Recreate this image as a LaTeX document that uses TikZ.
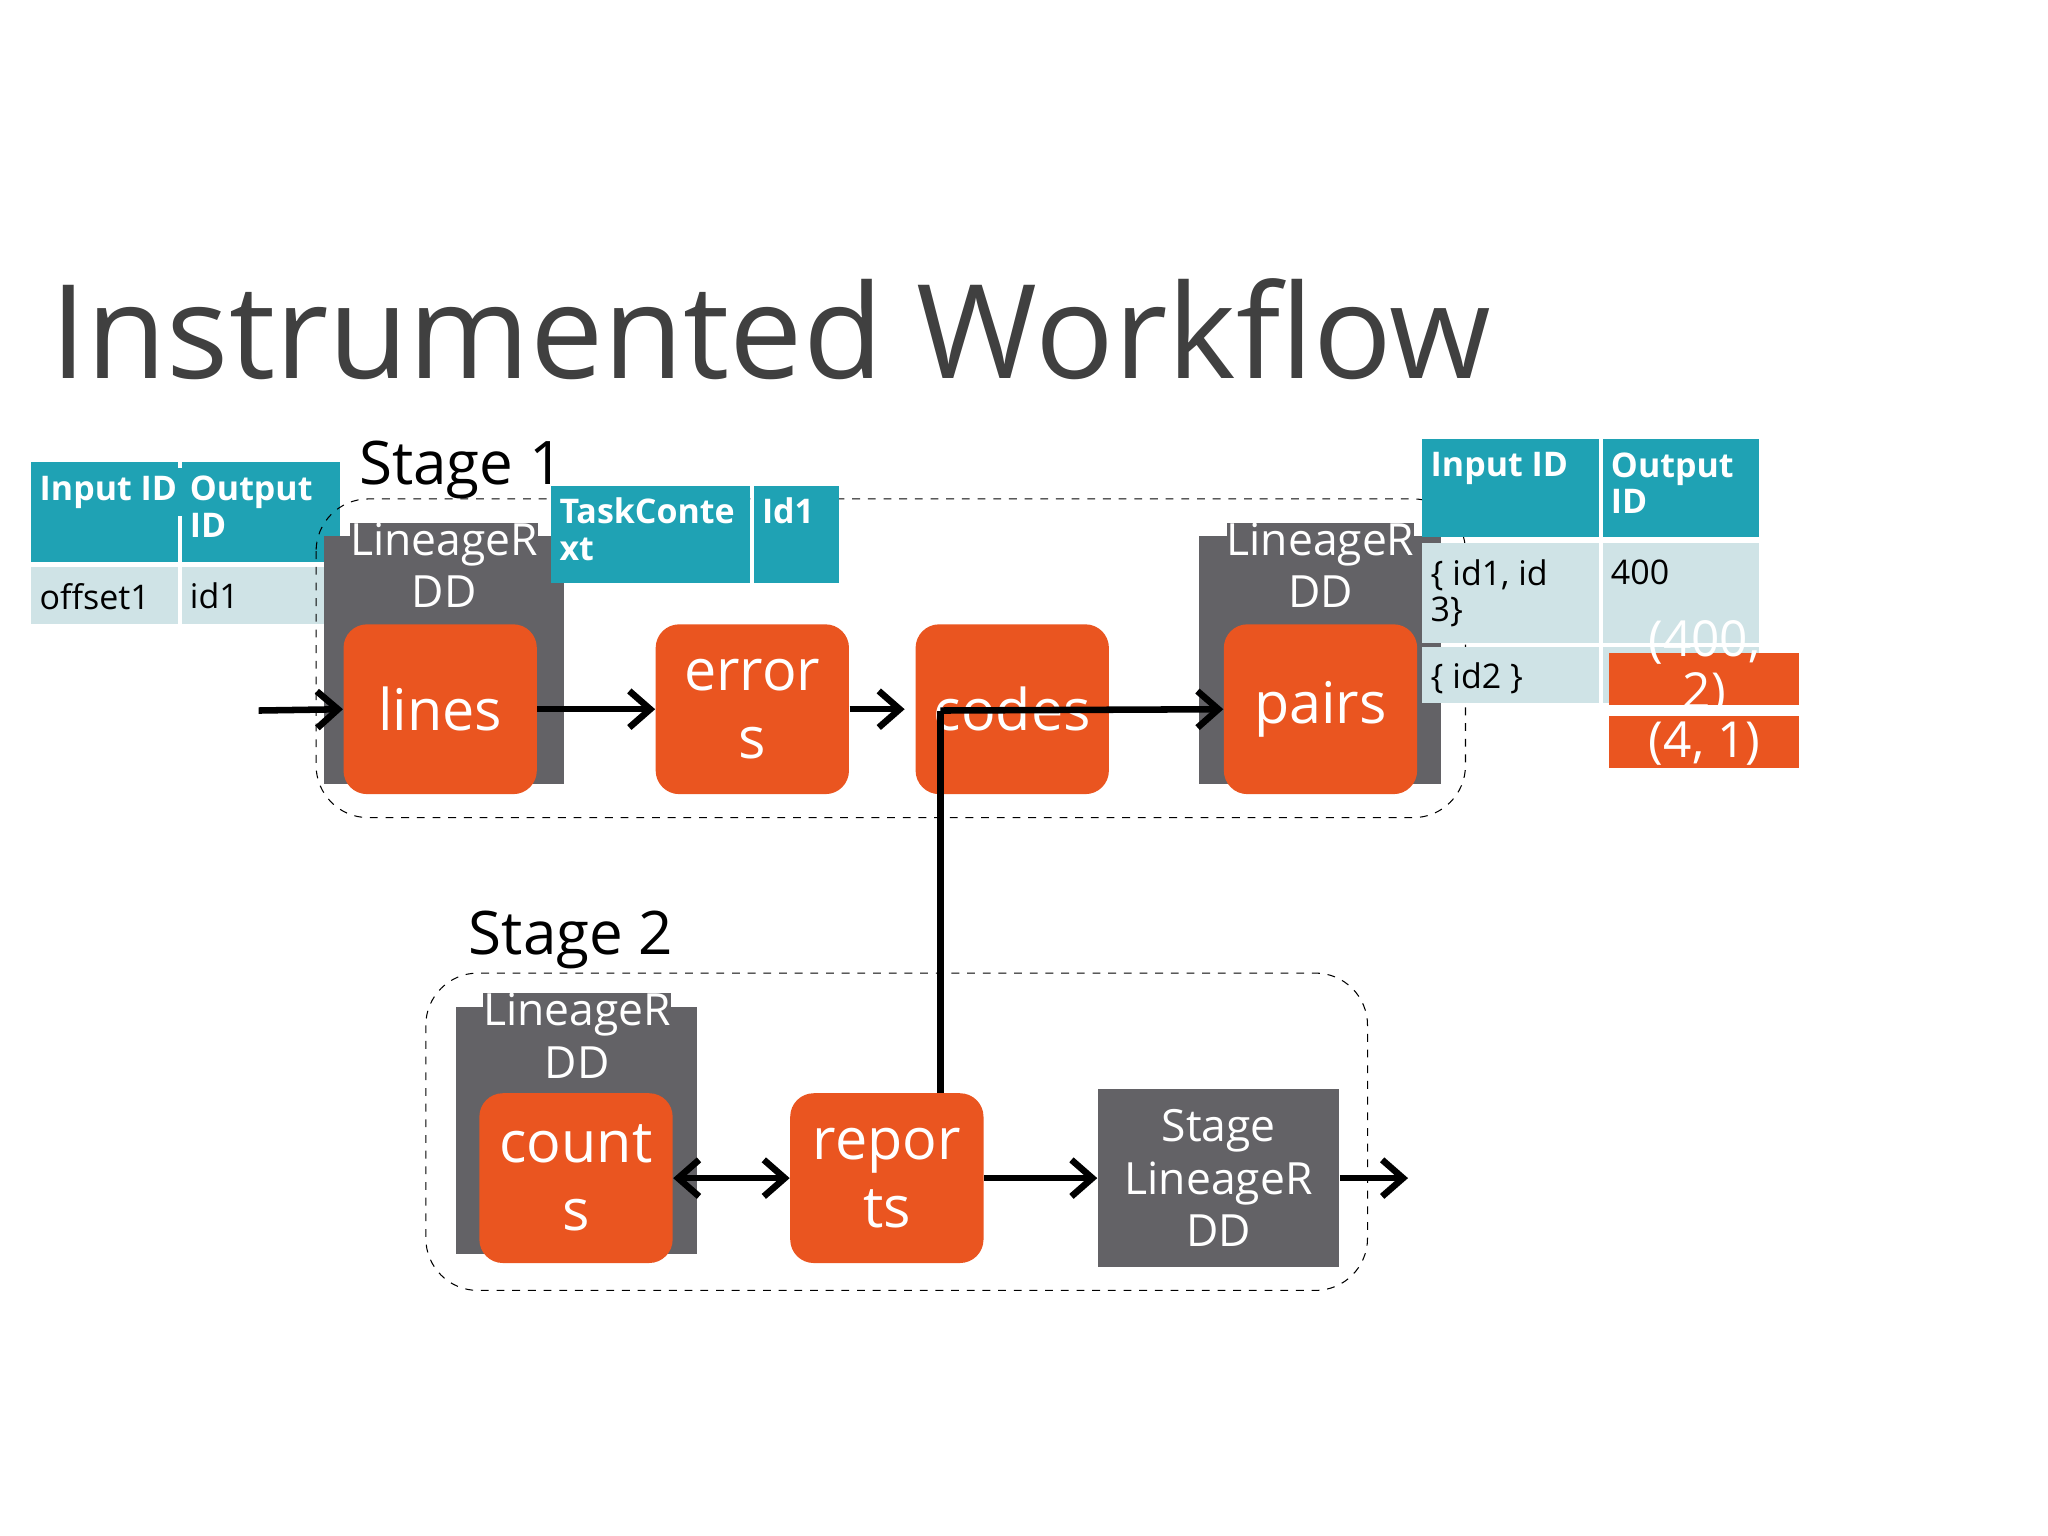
\documentclass[tikz,border=0pt]{standalone}
\usepackage{fontspec}
\setmainfont{Open Sans}
\usetikzlibrary{arrows.meta}
\definecolor{teal}{HTML}{1FA2B4}
\definecolor{lteal}{HTML}{CFE3E6}
\definecolor{org}{HTML}{EA5520}
\definecolor{gry}{HTML}{636266}
\begin{document}
\begin{tikzpicture}[x=0.5pt,y=-0.5pt,
 hd/.style={fill=teal,text=white,font=\fontsize{13}{14}\selectfont\bfseries,align=left,anchor=north west,inner sep=3pt},
 cl/.style={fill=lteal,text=black,font=\fontsize{13}{14}\selectfont,align=left,anchor=north west,inner sep=3pt},
 ob/.style={fill=org,rounded corners=9pt,text=white,font=\fontsize{22}{26}\selectfont,align=center,inner sep=0pt},
 gb/.style={fill=gry,text=white,font=\fontsize{17}{20}\selectfont,align=center,inner sep=0pt},
 ar/.style={line width=2.5pt,-{Straight Barb[length=8pt,width=14pt,line width=2.5pt]}},
 dsh/.style={dashed,rounded corners=20pt,thin},
 stg/.style={font=\fontsize{23}{26}\selectfont,anchor=west}]
\useasboundingbox (0,0) rectangle (1568,1176);
\node[anchor=base west,text=black!75,font=\fontsize{50}{56}\selectfont,inner sep=0pt] (title) at (38,290) {Instrumented Workflow};
% table 1
\fill[teal] (24,354) rectangle (136,430); \fill[teal] (139,354) rectangle (260,430);
\fill[lteal] (24,434) rectangle (136,478); \fill[lteal] (139,434) rectangle (260,478);
\node[hd] (t1a) at (24,358) {Input ID};
\node[hd] (t1b) at (139,358) {Output\\ID};
\node[hd,fill=none,text=black,font=\fontsize{13}{14}\selectfont] (t1c) at (24,440) {offset1};
\node[hd,fill=none,text=black,font=\fontsize{13}{14}\selectfont] (t1d) at (139,440) {id1};
% stage 1
\draw[dsh] (242,382) rectangle (1122,626);
\node[stg] (s1) at (268,360) {Stage 1};
\fill[gry] (248,410) rectangle (432,600);
\node[gb,anchor=north] (g1) at (340,400) {LineageR\\DD};
\node[ob,minimum width=74pt,minimum height=65pt] (lines) at (337,543) {lines};
% task context
\fill[teal] (422,372) rectangle (574,446); \fill[teal] (577,372) rectangle (642,446);
\node[hd,fill=none] (tc1) at (422,375) {TaskConte\\xt};
\node[hd,fill=none] (tc2) at (577,375) {Id1};
\node[ob,minimum width=74pt,minimum height=65pt] (errors) at (576,543) {error\\s};
\node[ob,minimum width=74pt,minimum height=65pt] (codes) at (775,543) {codes};
\fill[gry] (918,410) rectangle (1103,600);
\node[gb,anchor=north] (g2) at (1011,400) {LineageR\\DD};
\node[ob,minimum width=74pt,minimum height=65pt] (pairs) at (1011,543) {pairs};
% table 2
\fill[teal] (1089,336) rectangle (1224,411); \fill[teal] (1227,336) rectangle (1347,411);
\fill[lteal] (1089,416) rectangle (1224,492); \fill[lteal] (1227,416) rectangle (1347,492);
\fill[lteal] (1089,495) rectangle (1224,538); \fill[lteal] (1227,495) rectangle (1347,538);
\node[hd,fill=none] (t2a) at (1089,340) {Input ID};
\node[hd,fill=none] (t2b) at (1227,340) {Output\\ID};
\node[cl,fill=none] (t2c) at (1089,422) {\{ id1, id\\3\}};
\node[cl,fill=none] (t2d) at (1227,422) {400};
\node[cl,fill=none] (t2e) at (1089,501) {\{ id2 \}};
\fill[org] (1232,500) rectangle (1377,540);
\fill[org] (1232,548) rectangle (1377,588);
\node[text=white,font=\fontsize{19}{20}\selectfont,align=center] (p1) at (1305,512) {(400,\\2)};
\node[text=white,font=\fontsize{19}{20}\selectfont] (p2) at (1305,569) {(4, 1)};
% arrows stage 1
\coordinate (in) at (198,544);
\draw[ar] (in) -- (lines.west);
\draw[ar] (lines.east) -- (errors.west);
\draw[ar] (errors.east) -- ([xshift=-4]codes.west);
\coordinate (cj) at (720,544);
\draw[ar] (cj) -- (pairs.west);
% stage 2
\draw[dsh] (326,745) rectangle (1047,988);
\node[stg] (s2) at (352,720) {Stage 2};
\fill[gry] (349,771) rectangle (534,960);
\node[gb,anchor=north] (g3) at (442,760) {LineageR\\DD};
\node[ob,minimum width=74pt,minimum height=65pt] (counts) at (441,902) {count\\s};
\node[ob,minimum width=74pt,minimum height=65pt] (reports) at (679,902) {repor\\ts};
\node[gb,minimum width=92.5pt,minimum height=68pt] (srdd) at (933,902) {Stage\\LineageR\\DD};
\draw[line width=2.5pt] (reports.north -| cj) -- (cj);
\draw[line width=2.5pt,{Straight Barb[length=8pt,width=14pt,line width=2.5pt]}-{Straight Barb[length=8pt,width=14pt,line width=2.5pt]}] (counts.east) -- (reports.west);
\draw[ar] (reports.east) -- (srdd.west);
\coordinate (out) at (1078,902);
\draw[ar] (srdd.east) -- (out);
\end{tikzpicture}
\end{document}
